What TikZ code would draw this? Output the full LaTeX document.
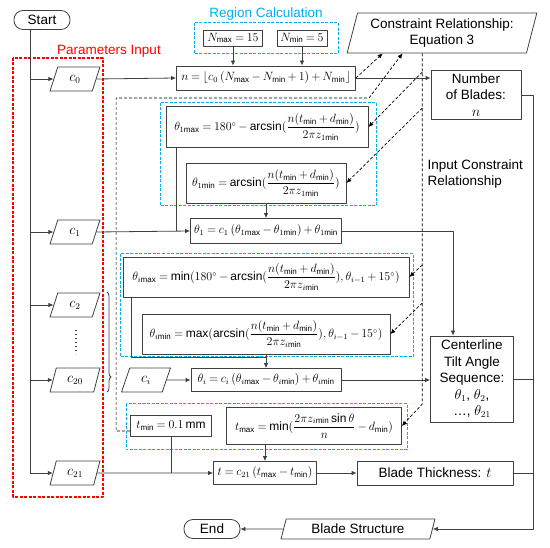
\documentclass[tikz,border=0pt]{standalone}
\usepackage{amsmath}
\usepackage{fontspec}
\setmainfont{Liberation Sans}
\usetikzlibrary{arrows.meta,shapes.geometric,calc,decorations.pathreplacing}
\definecolor{linegray}{RGB}{64,64,64}
\definecolor{regionblue}{RGB}{0,176,240}
\definecolor{inputred}{RGB}{255,0,0}
\newcommand{\submax}{\mathrm{max}}
\newcommand{\submin}{\mathrm{min}}
\thickmuskip=4mu plus 2mu
\medmuskip=3mu plus 1mu
\tikzset{
	box/.style={draw=linegray, line width=0.8pt, minimum height=24pt, inner sep=1pt},
	eq/.style={box, font=\fontsize{12}{14}\selectfont},
	io/.style={draw=linegray, line width=0.8pt, trapezium, trapezium left angle=74, trapezium right angle=106, trapezium stretches=true, minimum height=24pt, inner sep=1pt},
	term/.style={draw=linegray, line width=0.8pt, rounded corners=9pt, minimum width=56pt, minimum height=19pt, inner sep=1pt},
	line/.style={draw=linegray, line width=0.8pt},
	flow/.style={line, -{Latex[length=5pt,width=4.5pt]}},
	link/.style={draw=black, line width=0.7pt, dash pattern=on 3pt off 2pt},
	linkflow/.style={link, -{Latex[length=5pt,width=4.5pt]}},
	regionbox/.style={draw=regionblue, line width=1pt, dash pattern=on 3pt off 1.5pt},
	inputbox/.style={draw=inputred, line width=1.1pt, dash pattern=on 3pt off 1.5pt}
}
\begin{document}
\begin{tikzpicture}[x=1pt, y=-1pt, font=\fontsize{13.5}{16.5}\selectfont, line join=round]
	\useasboundingbox (0,0) rectangle (550,548);
	\draw[inputbox] (13,58) rectangle (103,497);
	\draw[regionbox] (194,23) rectangle (338,54);
	\draw[regionbox] (160,103) rectangle (376,206);
	\draw[regionbox] (120,254) rectangle (413,357);
	\draw[regionbox] (126,404) rectangle (407,450);
	\node[text=inputred] (inputlabel) at (109,51) {Parameters Input};
	\node[text=regionblue] (regionlabel) at (266,14) {Region Calculation};
	\node[anchor=west, align=left] (constlabel) at (424,174) {Input Constraint\\Relationship};

	\node[term] (start) at (42,20) {Start};
	\node[term] (end) at (212,529) {End};
	\node[io, minimum width=50pt] (c0) at (75,79) {$c_0$};
	\node[io, minimum width=50pt] (c1) at (75,232) {$c_1$};
	\node[io, minimum width=50pt] (c2) at (75,305) {$c_2$};
	\node[io, minimum width=50pt] (c20) at (75,380) {$c_{20}$};
	\node[io, minimum width=50pt] (c21) at (75,473) {$c_{21}$};
	\node[io, minimum width=49pt] (ci) at (146,380) {$c_i$};

	\node[eq, minimum width=59pt, minimum height=16pt] (nmax) at (233,38) {$N_{\submax}=15$};
	\node[eq, minimum width=50pt, minimum height=16pt] (nmin) at (302,38) {$N_{\submin}=5$};
	\node[eq, minimum width=179pt] (n) at (266,78) {$n=\lfloor c_0\left(N_{\submax}-N_{\submin}+1\right)+N_{\submin}\rfloor$};
	\node[io, minimum width=190pt, minimum height=40pt, align=center] (cons) at (442,33) {Constraint Relationship:\\Equation 3};
	\node[box, minimum width=90pt, minimum height=49pt, align=center] (blades) at (476,95) {Number\\of Blades:\\$n$};

	\node[eq, minimum width=202pt, minimum height=41pt] (t1max) at (267,127) {$\theta_{1\submax}=180^\circ-\arcsin(\dfrac{n(t_{\submin}+d_{\submin})}{2\pi z_{1\submin}})$};
	\node[eq, minimum width=160pt, minimum height=40pt] (t1min) at (266,183) {$\theta_{1\submin}=\arcsin(\dfrac{n(t_{\submin}+d_{\submin})}{2\pi z_{1\submin}})$};
	\node[eq, minimum width=151pt, minimum height=25pt] (t1) at (266,231) {$\theta_1=c_1\left(\theta_{1\submax}-\theta_{1\submin}\right)+\theta_{1\submin}$};
	\node[eq, minimum width=286pt, minimum height=40pt] (timax) at (266,277) {$\theta_{i\submax}=\min(180^\circ-\arcsin(\dfrac{n(t_{\submin}+d_{\submin})}{2\pi z_{i\submin}}),\theta_{i-1}+15^\circ)$};
	\node[eq, minimum width=248pt, minimum height=40pt] (timin) at (266,334) {$\theta_{i\submin}=\max(\arcsin(\dfrac{n(t_{\submin}+d_{\submin})}{2\pi z_{i\submin}}),\theta_{i-1}-15^\circ)$};
	\node[eq, minimum width=150pt, minimum height=23pt] (ti) at (266,380) {$\theta_i=c_i\left(\theta_{i\submax}-\theta_{i\submin}\right)+\theta_{i\submin}$};
	\node[box, minimum width=83pt, minimum height=86pt, align=center] (cl) at (472,379) {Centerline\\Tilt Angle\\Sequence:\\$\theta_1$, $\theta_2$,\\\dots, $\theta_{21}$};

	\node[eq, minimum width=81pt, minimum height=21pt] (tmin) at (171,426) {$t_{\submin}=0.1\,\mathrm{mm}$};
	\node[eq, minimum width=175pt, minimum height=37pt] (tmax) at (314,426) {$t_{\submax}=\min(\dfrac{2\pi z_{i\submin}\sin\theta}{n}-d_{\submin})$};
	\node[eq, minimum width=103pt, minimum height=23pt] (t) at (265,473) {$t=c_{21}\left(t_{\submax}-t_{\submin}\right)$};
	\node[box, minimum width=156pt, minimum height=24pt] (bt) at (435,473) {Blade Thickness: $t$};
	\node[io, minimum width=154pt, minimum height=20pt] (bstruct) at (358,529) {Blade Structure};

	\coordinate (trunk) at (30,0);
	\coordinate (bus) at (533,0);
	\draw[line] (start.south -| trunk) -- (c21.west -| trunk);
	\foreach \c in {c0,c1,c2,c20,c21}
	\draw[flow] (\c.west -| trunk) -- (\c.west);
	\draw[line, dash pattern=on 1.2pt off 2.8pt, line width=1.2pt] (76,330) -- (76,354);
	\draw[line, decorate, decoration={brace, amplitude=4pt, aspect=0.85}] (107,292) -- (107,392);

	\draw[flow] (c0.east) -- (n.west);
	\draw[flow] (nmax.south) -- (nmax.south |- n.north);
	\draw[flow] (nmin.south) -- (nmin.south |- n.north);
	\draw[flow] (n.east) -- (n.east -| blades.west);
	\draw[flow] (blades.east) -- (blades.east -| bus) |- (bstruct.east);
	\draw[line] (cl.east) -- (cl.east -| bus);
	\draw[line] (bt.east) -- (bt.east -| bus);
	\draw[flow] (bstruct.west) -- (end.east);

	\coordinate (t1maxfoot) at ([xshift=11pt]t1max.south west);
	\draw[line] (t1maxfoot) -- (t1maxfoot |- t1.west);
	\draw[flow] (c1.east) -- (t1.west);
	\draw[flow] (t1min.south) -- (t1.north);
	\draw[flow] (t1.east) -| ([xshift=-19pt]cl.north);

	\coordinate (timaxfoot) at ([xshift=9pt]timax.south west);
	\draw[line] (timaxfoot) |- ([yshift=-3pt]timin.south);
	\draw[flow] (timin.south) -- (ti.north);
	\draw[flow] (ci.east) -- (ti.west);
	\draw[flow] (ti.east) -- (ti.east -| cl.west);

	\draw[line] (tmin.south) -- (tmin.south |- t.west);
	\draw[flow] (t.north |- tmax.south) -- (t.north);
	\draw[flow] (c21.east) -- (t.west);
	\draw[flow] (t.east) -- (bt.west);

	\coordinate (k1) at ($(cons.bottom left corner)!0.2!(cons.bottom right corner)$);
	\coordinate (k2) at ($(cons.bottom left corner)!0.31!(cons.bottom right corner)$);
	\coordinate (k3) at ($(cons.bottom left corner)!0.42!(cons.bottom right corner)$);
	\draw[linkflow] (n.east) -- (k1);
	\draw[linkflow] ([yshift=-5pt]tmin.west) -- ++(-14,0) |- (369,98) -- (k2);
	\draw[linkflow] (k3) -- (k3 |- 0,404) -- (tmax.east);
	\draw[linkflow] (k3 |- 0,72) -- (t1max.east);
	\draw[linkflow] (k3 |- 0,108) -- (t1min.east);
	\draw[linkflow] (k3 |- 0,265) -- (timax.east);
	\draw[linkflow] (k3 |- 0,303) -- (timin.east);
\end{tikzpicture}
\end{document}
